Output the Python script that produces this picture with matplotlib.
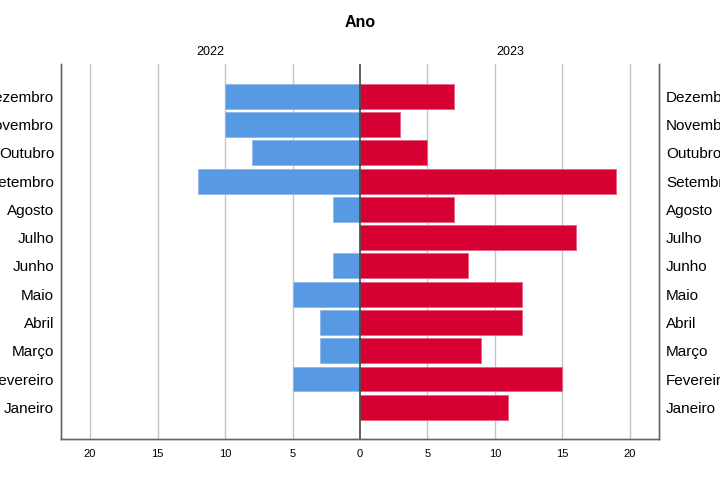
import numpy as np
import matplotlib.pyplot as plt

plt.rcParams['font.family'] = ['Liberation Sans', 'DejaVu Sans']

meses = ["Janeiro", "Fevereiro", "Março", "Abril", "Maio", "Junho",
         "Julho", "Agosto", "Setembro", "Outubro", "Novembro", "Dezembro"]
ano_2022 = [0, 5, 3, 3, 5, 2, 0, 2, 12, 8, 10, 10]
ano_2023 = [11, 15, 9, 12, 12, 8, 16, 7, 19, 5, 3, 7]
xticks = [-20, -15, -10, -5, 0, 5, 10, 15, 20]

fig = plt.figure(figsize=(7.2, 5.04), dpi=100)
ax = fig.add_axes([0.0847, 0.129, 0.8306, 0.744])

y = np.arange(len(meses))
ax.barh(y, -np.array(ano_2022), height=0.88, color="#5899e3",
        edgecolor="#8fb8ea", linewidth=0.6, zorder=3)
ax.barh(y, ano_2023, height=0.88, color="#d70033",
        edgecolor="#e0637e", linewidth=0.6, zorder=3)

ax.set_xlim(-22.15, 22.15)
ax.set_ylim(-1.12, 12.14)
ax.set_xticks(xticks)
ax.set_xticklabels([str(abs(v)) for v in xticks], fontsize=8)
ax.set_yticks(y)
ax.set_yticklabels(meses, fontsize=11)
ax.tick_params(axis="both", length=0)
ax.tick_params(axis="x", pad=7)
ax.tick_params(axis="y", pad=5)

for v in xticks:
    if v != 0:
        ax.axvline(v, color="#c4c4c4", linewidth=1, zorder=1)
ax.axvline(0, color="#444444", linewidth=1.2, zorder=4)

ax2 = ax.twinx()
ax2.set_ylim(ax.get_ylim())
ax2.set_yticks(y)
ax2.set_yticklabels(meses, fontsize=11)
ax2.tick_params(axis="y", length=0, pad=5)

for a in (ax, ax2):
    a.spines["top"].set_visible(False)
    for s in ("left", "right", "bottom"):
        a.spines[s].set_color("#666666")
        a.spines[s].set_linewidth(1)

fig.text(0.5, 0.955, "Ano", ha="center", va="center", fontsize=11.5,
         fontweight="bold")
fig.text(0.2917, 0.897, "2022", ha="center", va="center", fontsize=9)
fig.text(0.7083, 0.897, "2023", ha="center", va="center", fontsize=9)

plt.savefig("out.png", dpi=100)
